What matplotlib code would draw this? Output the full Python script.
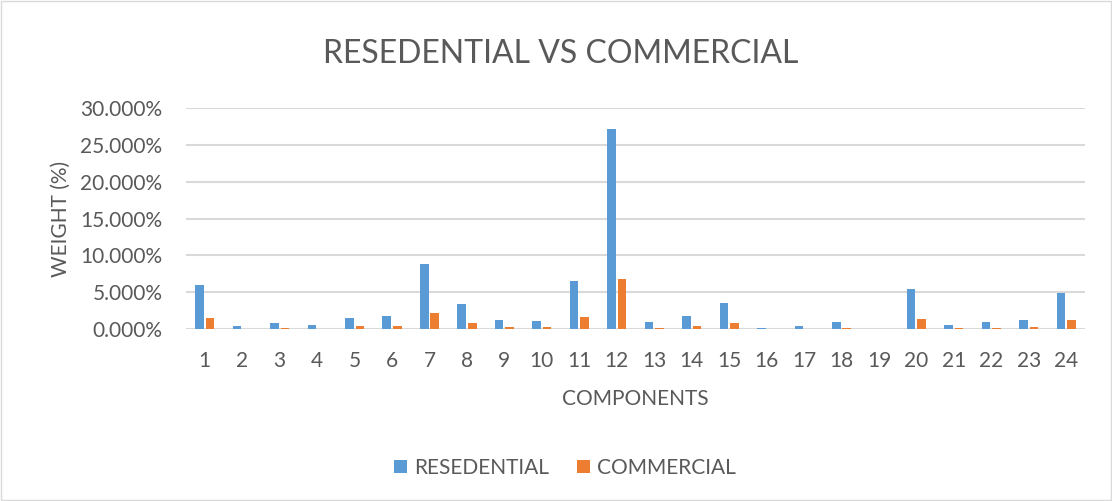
import numpy as np
import matplotlib.pyplot as plt
from matplotlib.ticker import PercentFormatter

components = [str(i) for i in range(1, 25)]

# weights read as fractions (0.05 = 5%)
residential = [0.0595, 0.0047, 0.0088, 0.0050, 0.0147, 0.0170, 0.0882, 0.0334,
               0.0123, 0.0115, 0.0653, 0.2710, 0.0092, 0.0170, 0.0348, 0.0020,
               0.0047, 0.0092, 0.0, 0.0548, 0.0055, 0.0092, 0.0129, 0.0485]
commercial = [0.0147, 0.0, 0.0020, 0.0, 0.0037, 0.0041, 0.0215, 0.0078,
              0.0027, 0.0027, 0.0160, 0.0677, 0.0020, 0.0037, 0.0088, 0.0,
              0.0, 0.0020, 0.0, 0.0137, 0.0015, 0.0020, 0.0033, 0.0119]

blue = '#5b9bd5'
orange = '#ed7d31'
text_col = '#595959'
grid_col = '#d9d9d9'

plt.rcParams['font.family'] = ['Lato', 'DejaVu Sans']

fig = plt.figure(figsize=(11.12, 5.01), dpi=100)
# light chart border
fig.patches.append(plt.Rectangle((0.001, 0.001), 0.998, 0.998, transform=fig.transFigure,
                                 fill=False, edgecolor=grid_col, linewidth=1))

ax = fig.add_axes([0.1673, 0.3433, 0.8084, 0.4411])
x = np.arange(len(components))
w = 0.23
ax.bar(x - 0.14, residential, w, color=blue, label='RESEDENTIAL', zorder=3)
ax.bar(x + 0.14, commercial, w, color=orange, label='COMMERCIAL', zorder=3)

ax.set_xlim(-0.5, len(components) - 0.5)
ax.set_ylim(0, 0.30)
ax.set_yticks(np.arange(0, 0.301, 0.05))
ax.yaxis.set_major_formatter(PercentFormatter(1.0, decimals=3))
ax.set_xticks(x)
ax.set_xticklabels(components)
ax.grid(axis='y', color=grid_col, linewidth=1.5, zorder=0)
for s in ax.spines.values():
    s.set_visible(False)
ax.tick_params(length=0, labelsize=15, colors=text_col)
ax.tick_params(axis='y', pad=17)
ax.tick_params(axis='x', pad=16)

ax.set_xlabel('COMPONENTS', fontsize=15, color=text_col, labelpad=13)
ax.set_ylabel('WEIGHT (%)', fontsize=15, color=text_col, labelpad=7)
fig.text(0.5045, 0.892, 'RESEDENTIAL VS COMMERCIAL', fontsize=23, color=text_col,
         ha='center', va='center')

fig.legend(loc='center', bbox_to_anchor=(0.508, 0.066), ncol=2, frameon=False,
           fontsize=15, labelcolor=text_col, handlelength=0.6, handleheight=0.6,
           columnspacing=1.35, handletextpad=0.35)

fig.savefig('out.png', dpi=100)
